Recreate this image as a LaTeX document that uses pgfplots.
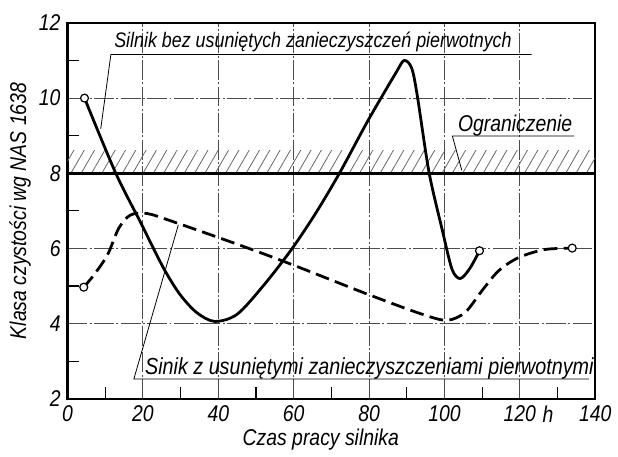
\documentclass[border=0pt]{standalone}
\usepackage{pgfplots}
\pgfplotsset{compat=1.18}
\usepackage{fontspec}
\setmainfont{Liberation Sans}[FakeStretch=0.85]
\usetikzlibrary{patterns.meta}
\begin{document}
\begin{tikzpicture}[font=\itshape\fontsize{11.5}{13}\selectfont]
\begin{axis}[
  width=266pt, height=189.5pt, scale only axis,
  xmin=0, xmax=140, ymin=2, ymax=12,
  xtick={0,20,...,140}, ytick={2,4,...,12},
  minor xtick={10,30,...,130}, minor ytick={3,5,...,11},
  extra x ticks={127.5}, extra x tick labels={h},
  extra x tick style={grid=none, major tick length=0pt},
  grid=major,
  major grid style={black!70, line width=0.45pt, dash pattern=on 10pt off 1.2pt on 1pt off 1.2pt},
  major tick length=0pt, minor tick length=6pt,
  tick align=inside, xtick pos=left, ytick pos=left,
  axis line style={line width=1.1pt},
  every tick/.style={black, line width=0.6pt},
  /pgf/number format/assume math mode=true,
  ticklabel style={font=\itshape\fontsize{11.5}{13}\selectfont},
  xlabel={Czas pracy silnika},
  ylabel={Klasa czystości wg NAS 1638},
  x label style={at={(axis description cs:0.48,0)}, anchor=center, yshift=-20.5pt},
  y label style={at={(axis description cs:-0.09,0.5)}, anchor=center},
  clip=false,
]
% hatched limit band
\addplot[draw=none, pattern={Lines[angle=60, distance=4.5pt, line width=0.4pt]}, pattern color=black!60]
  coordinates {(0,8) (0,8.6) (140,8.6) (140,8)} -- cycle;
\addplot[line width=1.8pt, black] coordinates {(0,8) (140,8)};
% engine without removal of primary contaminants
\addplot[line width=1.4pt, black, smooth, tension=0.5] coordinates {
(4.5,10) (12.8,8.0) (19.3,6.71) (22.8,6.0) (25.9,5.4) (29.8,4.78) (34.2,4.3) (39,4.06)
(45,4.25) (52.2,5.04) (59.6,6.0) (66.1,6.98) (72.3,8.03) (79.7,9.4)
(87.1,10.67) (89.3,11.0) (91.3,10.8) (92.8,10.06) (95.9,8.03) (99.4,6.5) (102,5.45)
(104.2,5.2) (106.8,5.48) (109.3,5.94)};
% engine with removal of primary contaminants
\addplot[line width=1.4pt, black, smooth, tension=0.5, dash pattern=on 7pt off 3.2pt] coordinates {
(4.3,4.97) (7.1,5.31) (10.6,5.83) (13.6,6.54) (16.7,6.89) (21.1,6.93) (28.1,6.71)
(46.5,6.06) (59.6,5.57) (79.7,4.78) (94.1,4.25) (100.7,4.09) (105.5,4.30) (109.9,4.87)
(114.3,5.40) (119.5,5.75) (126.5,5.97) (133.9,6.01)};
\addplot[only marks, mark=*, mark size=2pt, mark options={fill=white, draw=black, line width=0.6pt}]
  coordinates {(4.5,10) (109.3,5.94) (4.3,4.97) (133.9,6.01)};
% annotations
\node[anchor=base west, inner sep=0pt, font=\itshape\fontsize{10.6}{13}\selectfont] at (axis cs:12.3,11.34) {Silnik bez usuniętych zanieczyszczeń pierwotnych};
\draw[line width=0.4pt] (axis cs:8.8,9.18) -- (axis cs:11.5,11.16) -- (axis cs:123.1,11.16);
\node[anchor=base west, inner sep=0pt] at (axis cs:103.5,9.12) {Ograniczenie};
\draw[line width=0.4pt] (axis cs:104.6,8.08) -- (axis cs:102.1,8.99) -- (axis cs:134.4,8.99);
\node[anchor=base west, inner sep=0pt, font=\itshape\fontsize{11.7}{13}\selectfont] at (axis cs:20.5,2.66) {Sinik z usuniętymi zanieczyszczeniami pierwotnymi};
\draw[line width=0.4pt] (axis cs:29.4,6.63) -- (axis cs:17.6,2.53) -- (axis cs:138.3,2.53);
% page extent
\path (axis description cs:-0.128,-0.132) rectangle (axis description cs:1.034,1.061);
\end{axis}
\end{tikzpicture}
\end{document}
